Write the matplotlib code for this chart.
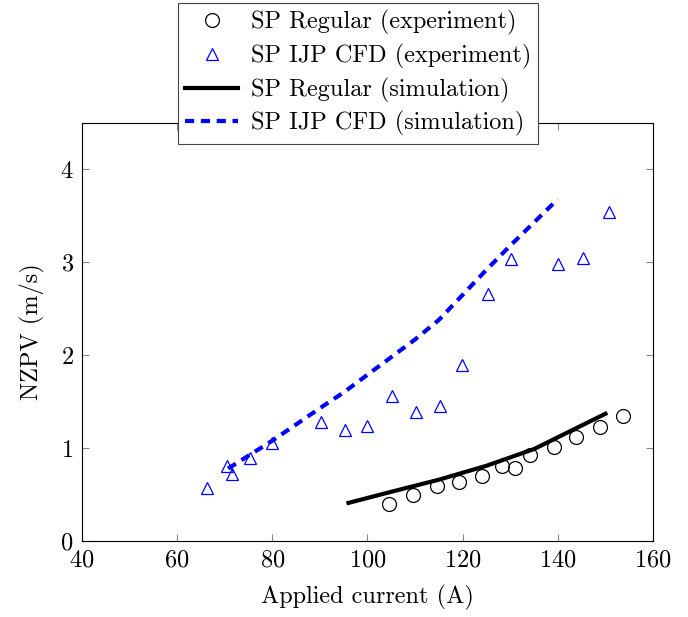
import matplotlib
matplotlib.use("Agg")
import matplotlib.pyplot as plt

plt.rcParams['font.family'] = 'serif'
plt.rcParams['font.serif'] = ['cmr10', 'DejaVu Serif']
plt.rcParams['mathtext.fontset'] = 'cm'
plt.rcParams['axes.formatter.use_mathtext'] = True

reg_exp_x = [104.5, 109.6, 114.6, 119.2, 124.1, 128.3, 131.0, 134.2, 139.2, 143.8, 148.9, 153.7]
reg_exp_y = [0.40, 0.49, 0.59, 0.63, 0.70, 0.81, 0.79, 0.93, 1.01, 1.12, 1.23, 1.35]

ijp_exp_x = [66.3, 70.5, 71.5, 75.3, 79.9, 90.2, 95.3, 99.9, 105.2, 110.2, 115.2, 119.9, 125.3, 130.2, 140.0, 145.3, 150.8]
ijp_exp_y = [0.57, 0.81, 0.72, 0.89, 1.05, 1.28, 1.19, 1.24, 1.56, 1.39, 1.45, 1.90, 2.66, 3.04, 2.98, 3.05, 3.54]

reg_sim_x = [96, 105, 115, 125, 135, 150]
reg_sim_y = [0.41, 0.53, 0.66, 0.81, 0.99, 1.37]

ijp_sim_x = [70.7, 80, 90, 95, 100, 105, 110, 115, 120, 125, 130, 135, 140]
ijp_sim_y = [0.78, 1.08, 1.43, 1.60, 1.79, 1.98, 2.17, 2.38, 2.65, 2.92, 3.18, 3.43, 3.68]

xticks = [40, 60, 80, 100, 120, 140, 160]
yticks = [0, 1, 2, 3, 4]

fig = plt.figure(figsize=(6.88, 6.17), dpi=100)
ax = fig.add_axes([82/688, 76/617, 571/688, 418/617])

ax.plot(reg_exp_x, reg_exp_y, linestyle='none', marker='o', markersize=10,
        markerfacecolor='none', markeredgecolor='black', markeredgewidth=0.9,
        label='SP Regular (experiment)')
ax.plot(ijp_exp_x, ijp_exp_y, linestyle='none', marker='^', markersize=8.5,
        markerfacecolor='none', markeredgecolor='blue', markeredgewidth=0.9,
        label='SP IJP CFD (experiment)')
ax.plot(reg_sim_x, reg_sim_y, color='black', linewidth=3.0,
        label='SP Regular (simulation)')
ax.plot(ijp_sim_x, ijp_sim_y, color='blue', linewidth=3.0, linestyle=(0, (2.2, 1.6)),
        label='SP IJP CFD (simulation)')

ax.set_xlim(40, 160)
ax.set_ylim(0, 4.5)
ax.set_xticks(xticks)
ax.set_yticks(yticks)
ax.tick_params(direction='in', top=True, right=True, labelsize=17.5, length=5,
               color='#888888', width=0.8, pad=6)
for s in ax.spines.values():
    s.set_linewidth(0.8)
ax.set_xlabel('Applied current (A)', fontsize=17.5, labelpad=10)
ax.set_ylabel('NZPV (m/s)', fontsize=17.5, labelpad=11)

leg = fig.legend(loc='upper center', bbox_to_anchor=(358/688, 1 - 3/617),
                 fontsize=17.5, frameon=True, fancybox=False, edgecolor='#444444',
                 framealpha=1, handlelength=2.2, handletextpad=0.5,
                 borderpad=0.3, labelspacing=0.35, borderaxespad=0)
leg.get_frame().set_linewidth(0.8)

fig.savefig('out.png', dpi=100)
